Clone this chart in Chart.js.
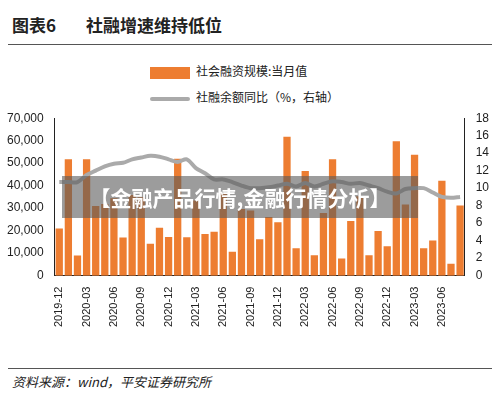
<!DOCTYPE html>
<html><head><meta charset="utf-8">
<script src="https://cdn.jsdelivr.net/npm/chart.js@4"></script>
<style>
body{margin:0;width:500px;height:400px;background:#fff;font-family:"Noto Sans CJK SC",sans-serif;position:relative;overflow:hidden}
#title{position:absolute;left:12px;top:12px;font-size:17px;font-weight:bold;color:#222}
#title span{margin-left:30px}
#topline{position:absolute;left:8px;right:8px;top:44px;border-top:1px solid #555}
.lg{position:absolute;left:150px;font-size:12px;color:#222;line-height:16px}
.lg i{display:inline-block;width:40px;vertical-align:middle;margin-right:6px}
#box{position:absolute;left:0;top:108px;width:500px;height:222px}
#botline{position:absolute;left:8px;right:8px;top:368px;border-top:1px solid #555}
#src{position:absolute;left:12px;top:372px;font-size:13px;font-style:italic;color:#222}
#wm{position:absolute;left:62px;top:176px;width:356px;height:42px;background:rgba(90,90,90,0.6);color:#fff;font-size:21px;font-weight:bold;line-height:42px;text-align:center}
</style></head><body>
<div id="title">图表6<span>社融增速维持低位</span></div>
<div id="topline"></div>
<div class="lg" style="top:63px"><i style="height:12px;background:#ed7d31"></i>社会融资规模:当月值</div>
<div class="lg" style="top:89px"><i style="height:4px;background:#aaaaaa;border-radius:2px"></i>社融余额同比（%，右轴）</div>
<div id="box"><canvas id="c"></canvas></div>
<div id="wm">【金融产品行情,金融行情分析】</div>
<div id="botline"></div>
<div id="src">资料来源：wind，平安证券研究所</div>
<script>
const months = [];
for (let y = 2019, m = 12; !(y === 2023 && m === 9); ) {
  months.push(y + '-' + String(m).padStart(2, '0'));
  m++; if (m > 12) { m = 1; y++; }
}
const flow = [21000,51700,8900,51800,31000,31900,34400,16900,35800,34800,14200,21300,17200,
  52000,17100,33400,18500,19500,36700,10600,29600,29000,16200,26100,23700,
  61700,12200,46500,9100,27900,51700,7600,24300,35300,9100,19900,13100,
  59800,31600,53800,12200,15600,42200,5300,31200];
const growth = [10.7,10.7,10.7,11.5,12.0,12.5,12.8,12.9,13.3,13.5,13.7,13.6,13.3,
  13.0,13.3,12.3,11.7,11.0,11.0,10.7,10.3,10.0,10.0,10.1,10.3,
  10.5,10.2,10.6,10.2,10.5,10.8,10.7,10.5,10.6,10.3,10.0,9.6,
  9.4,9.9,10.0,10.0,9.5,9.0,8.9,9.0];

new Chart(document.getElementById('c'), {
  data: {
    labels: months,
    datasets: [
      { type: 'line', label: '社融余额同比（%，右轴）', data: growth, yAxisID: 'y1',
        borderColor: '#aaaaaa', borderWidth: 4, pointRadius: 0, tension: 0.3, order: 0 },
      { type: 'bar', label: '社会融资规模:当月值', data: flow, yAxisID: 'y',
        backgroundColor: '#ed7d31', categoryPercentage: 1, barPercentage: 0.8, order: 1 }
    ]
  },
  options: {
    responsive: true, maintainAspectRatio: false, animation: false,
    layout: { padding: { left: 4, right: 8, top: 0, bottom: 0 } },
    plugins: { legend: { display: false }, tooltip: { enabled: false } },
    scales: {
      x: { grid: { display: false }, border: { color: '#222' },
        ticks: { color: '#222', font: { size: 11 }, maxRotation: 90, minRotation: 90, autoSkip: false,
          callback: function (v, i) { return i % 3 === 0 ? months[i] : ''; } } },
      y: { min: 0, max: 70000, grid: { display: false }, border: { color: '#222' },
        ticks: { stepSize: 10000, color: '#222', font: { size: 12 },
          callback: v => v.toLocaleString('en-US') } },
      y1: { position: 'right', min: 0, max: 18, grid: { display: false }, border: { color: '#222' },
        ticks: { stepSize: 2, color: '#222', font: { size: 12 } } }
    }
  }
});
</script>
</body></html>
